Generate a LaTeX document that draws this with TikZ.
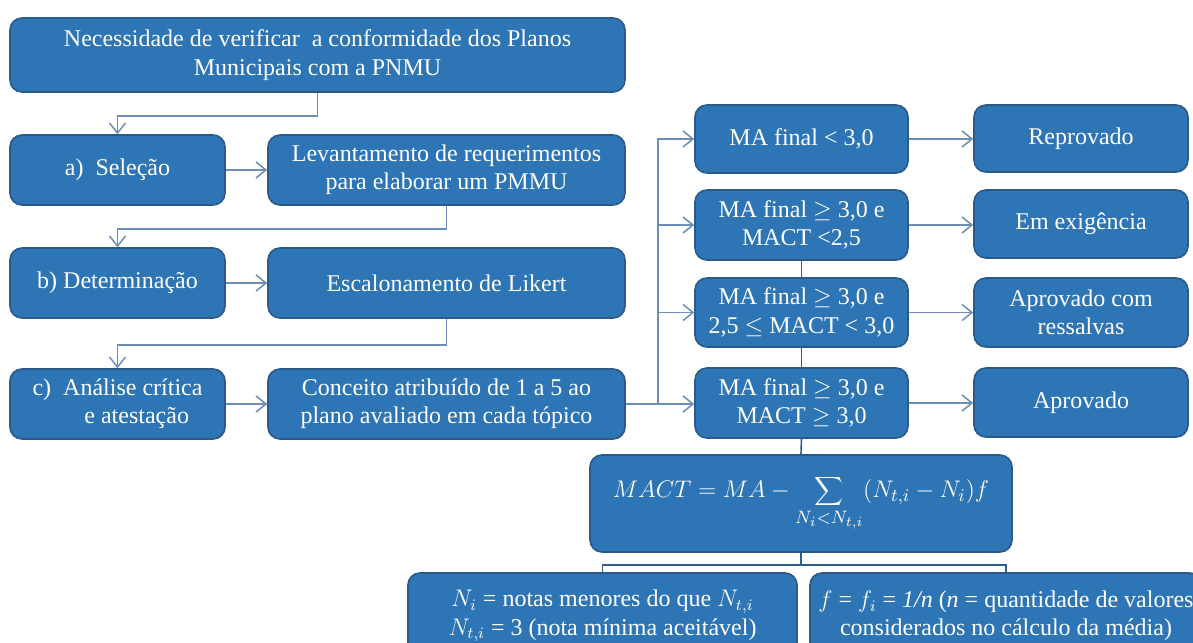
\documentclass[tikz,border=0pt]{standalone}
\usepackage{fontspec}
\setmainfont{Liberation Serif}
\usepackage{xcolor}
\usetikzlibrary{arrows.meta,positioning}

\definecolor{azul}{HTML}{2E75B6}
\definecolor{bordaazul}{HTML}{2B5A8A}
\definecolor{linha}{HTML}{6C8EB9}
\definecolor{linhaescura}{HTML}{2D5B8A}

\begin{document}
\begin{tikzpicture}[
        x=0.5pt, y=-0.5pt,
        caixa/.style={
            draw=bordaazul,
            fill=azul,
            text=white,
            line width=0.8pt,
            rounded corners=6pt,
            align=center,
            inner sep=2pt,
            font=\fontsize{12}{14.2}\selectfont
        },
        seta/.style={
            draw=linha,
            line width=0.75pt,
            -{Straight Barb[length=5pt,width=8pt]}
        },
        ligacao/.style={
            draw=linhaescura,
            line width=0.8pt
        }
    ]
    \useasboundingbox (0,0) rectangle (1193,642);
    \clip (0,0) rectangle (1193,642);

    \node[caixa, minimum width=307.5pt, minimum height=37pt] (topo) at (317.5,55)
        {Necessidade de verificar\ \ a conformidade dos Planos\\ Municipais com a PNMU};

    \node[caixa, minimum width=107.5pt, minimum height=35pt] (sel) at (117.5,170) {a)\ \ Seleção};
    \node[caixa, minimum width=178.5pt, minimum height=35pt] (lev) at (446.5,170)
        {Levantamento de requerimentos\\ para elaborar um PMMU};

    \node[caixa, minimum width=107.5pt, minimum height=35pt] (det) at (117.5,283) {b) Determinação};
    \node[caixa, minimum width=178.5pt, minimum height=35pt] (esc) at (446.5,283) {Escalonamento de Likert};

    \node[caixa, minimum width=107.5pt, minimum height=35pt] (ana) at (117.5,404)
        {c)\ \ Análise crítica\\ \hspace*{1.6em}e atestação};
    \node[caixa, minimum width=178.5pt, minimum height=35pt] (con) at (446.5,404)
        {Conceito atribuído de 1 a 5 ao\\ plano avaliado em cada tópico};

    \node[caixa, minimum width=106.5pt, minimum height=34pt] (ma1) at (801.5,139) {MA final < 3,0};
    \node[caixa, minimum width=106.5pt, minimum height=35pt] (ma2) at (801.5,225)
        {MA final $\geq$ 3,0 e\\ MACT <2,5};
    \node[caixa, minimum width=106.5pt, minimum height=34.5pt] (ma3) at (801.5,312.5)
        {MA final $\geq$ 3,0 e\\ 2,5 $\leq$ MACT < 3,0};
    \node[caixa, minimum width=106.5pt, minimum height=35pt] (ma4) at (801.5,403)
        {MA final $\geq$ 3,0 e\\ MACT $\geq$ 3,0};

    \node[caixa, minimum width=107pt, minimum height=33.5pt] (rep) at (1081,138.5) {Reprovado};
    \node[caixa, minimum width=107pt, minimum height=34pt] (exi) at (1081,224) {Em exigência};
    \node[caixa, minimum width=107pt, minimum height=34.5pt] (ress) at (1081,312.5)
        {Aprovado com\\ ressalvas};
    \node[caixa, minimum width=107pt, minimum height=34.5pt] (apr) at (1081,402.5) {Aprovado};

    \node[caixa, minimum width=211pt, minimum height=48.5pt, inner sep=0pt, font=\fontsize{13.2}{16}\selectfont] (mact) at (801,503.5)
        {$\displaystyle MACT = MA - \sum_{N_i<N_{t,i}} \bigl(N_{t,i}-N_i\bigr)f$};

    \node[caixa, minimum width=194.5pt, minimum height=43pt] (notas) at (602.5,616)
        {$N_i$ = notas menores do que $N_{t,i}$\\ $N_{t,i}$ = 3 (nota mínima aceitável)};
    \node[caixa, minimum width=196pt, minimum height=43pt] (calc) at (1006,616)
        {$f$ = $f_i$ = \textit{1/n} (\textit{n} = quantidade de valores\\ considerados no cálculo da média)};

    \draw[seta] (topo.south) -- ++(0,23) -| (sel.north);
    \draw[seta] (lev.south) -- ++(0,23) -| (det.north);
    \draw[seta] (esc.south) -- ++(0,26) -| (ana.north);

    \draw[seta] (sel.east) -- (lev.west);
    \draw[seta] (det.east) -- (esc.west);
    \draw[seta] (ana.east) -- (con.west);

    \coordinate (ramo) at (658,404);
    \draw[seta] (con.east) -- (con.east -| ma4.west);
    \foreach \m in {ma1,ma2,ma3}
        \draw[seta] (ramo) |- (\m.west);

    \foreach \m/\r in {ma1/rep,ma2/exi,ma3/ress,ma4/apr}
        \draw[seta] (\m.east) -- (\m.east -| \r.west);

    \draw[ligacao] (ma2.south) -- (ma3.north);
    \draw[ligacao] (ma3.south) -- (ma4.north);
    \draw[ligacao] (ma4.south) -- (mact.north);

    \draw[ligacao] (mact.south) -- ++(0,12) -| (notas.north);
    \draw[ligacao] (mact.south) -- ++(0,12) -| (calc.north);

\end{tikzpicture}
\end{document}
